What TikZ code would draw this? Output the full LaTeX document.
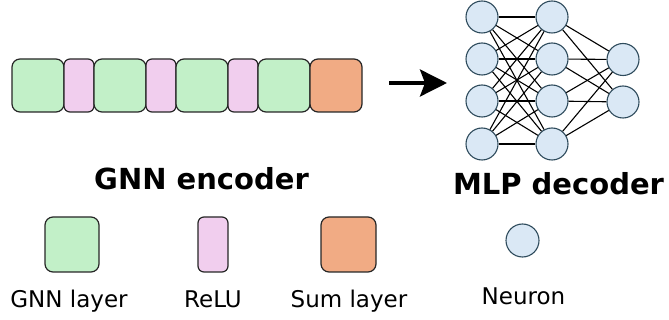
\documentclass[tikz,border=0pt]{standalone}
\usepackage{fontspec}
\setmainfont{DejaVu Sans}
\usetikzlibrary{arrows.meta, positioning}

\definecolor{gnngreen}{HTML}{C2F0C8}
\definecolor{relupink}{HTML}{F1CEEE}
\definecolor{sumorange}{HTML}{F1AB84}
\definecolor{neuronblue}{HTML}{DAE8F5}
\definecolor{neuronedge}{HTML}{2E4B5C}

\tikzset{
  layer/.style={draw=black!85, line width=1.2pt, rounded corners=8pt,
    minimum height=53pt, inner sep=0pt, outer sep=0pt},
  gnn/.style={layer, fill=gnngreen, minimum width=52pt},
  relu/.style={layer, fill=relupink, minimum width=30pt, rounded corners=6pt},
  sumlay/.style={layer, fill=sumorange, minimum width=52pt},
  neuron/.style={circle, draw=neuronedge, line width=1.1pt, fill=neuronblue,
    minimum size=32pt, inner sep=0pt},
  wire/.style={black, line width=1.1pt},
  legendtext/.style={anchor=base, inner sep=0pt, font=\fontsize{23}{27}\selectfont},
  titletext/.style={anchor=base, inner sep=0pt, font=\bfseries\fontsize{29}{34}\selectfont},
}

\begin{document}
\begin{tikzpicture}[x=1pt, y=-1pt]
  \useasboundingbox (0,0) rectangle (669,320);
  % ---- encoder: chain of layers, title below ----
  \node[gnn, anchor=west] (g1) at (12,85.5) {};
  \node[relu, right=0pt of g1] (r1) {};
  \node[gnn, right=0pt of r1] (g2) {};
  \node[relu, right=0pt of g2] (r2) {};
  \node[gnn, right=0pt of r2] (g3) {};
  \node[relu, right=0pt of g3] (r3) {};
  \node[gnn, right=0pt of r3] (g4) {};
  \node[sumlay, right=0pt of g4] (s1) {};
  \node[titletext] (enctitle) at (201.5,190) {GNN encoder};
  % ---- arrow ----
  \coordinate (arrstart) at (389,83);
  \coordinate (arrend) at (447,83);
  \draw[-{Stealth[length=27pt, width=27pt, inset=5pt]}, line width=3.5pt]
    (arrstart) -- (arrend);
  % ---- decoder: three columns of neurons, title below ----
  \foreach \i/\y in {1/17, 2/59, 3/101, 4/144} {
    \node[neuron] (a\i) at (482,\y) {};
    \node[neuron] (b\i) at (552,\y) {};
  }
  \node[neuron] (c1) at (623,59.5) {};
  \node[neuron] (c2) at (623,102) {};
  \foreach \i in {1,...,4} {
    \foreach \j in {1,...,4} \draw[wire] (a\i) -- (b\j);
    \foreach \j in {1,2} \draw[wire] (b\i) -- (c\j);
  }
  \node[titletext] (dectitle) at (558.5,195) {MLP decoder};
  % ---- legend ----
  \node[gnn, minimum width=54pt, minimum height=55pt] (lgnn) at (72,244.5) {};
  \node[relu, minimum height=55pt] (lrelu) at (213,244.5) {};
  \node[sumlay, minimum width=55pt, minimum height=55pt] (lsum) at (348.5,244.5) {};
  \node[neuron, minimum size=33pt] (lneuron) at (522.5,240.5) {};
  \node[legendtext] (lgnntext) at (69,307) {GNN layer};
  \node[legendtext] (lrelutext) at (213,307) {ReLU};
  \node[legendtext] (lsumtext) at (349,307) {Sum layer};
  \node[legendtext] (lneurontext) at (523.5,305) {Neuron};
\end{tikzpicture}
\end{document}
